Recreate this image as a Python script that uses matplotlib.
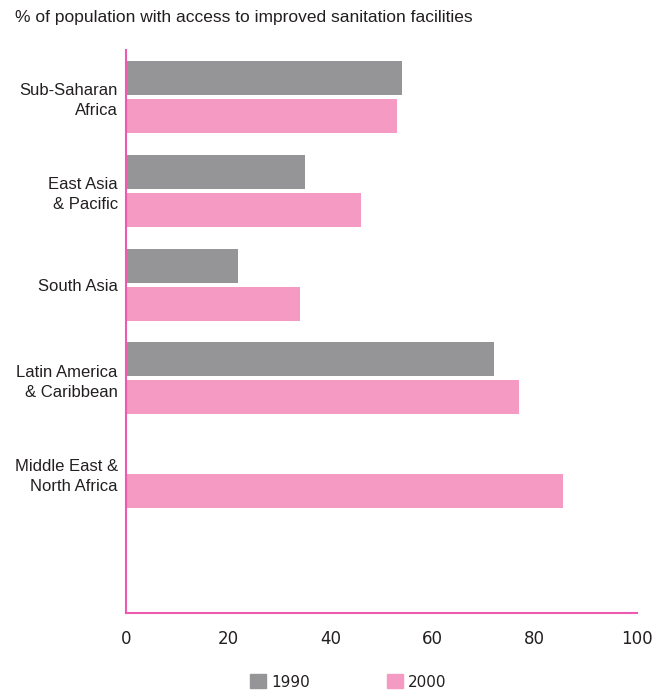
import numpy as np
import matplotlib
matplotlib.use("Agg")
from matplotlib import pyplot as plt
from matplotlib.patches import Patch

# data
regions = ["Sub-Saharan\nAfrica", "East Asia\n& Pacific", "South Asia",
           "Latin America\n& Caribbean", "Middle East &\nNorth Africa"]
v1990 = [54, 35, 22, 72, np.nan]
v2000 = [53, 46, 34, 77, 85.5]
xticks = [0, 20, 40, 60, 80, 100]

grey = "#959598"
pink = "#F49AC3"
axis_pink = "#EE5AB0"
txt = "#231F20"

plt.rcParams['font.family'] = ['Liberation Sans', 'DejaVu Sans']

fig = plt.figure(figsize=(6.62, 6.92), dpi=100)
ax = fig.add_axes([0.1903, 0.1142, 0.7719, 0.8135])

y = np.arange(len(regions))
h = 0.362
ax.barh(y - 0.202, v1990, height=h, color=grey, label="1990")
ax.barh(y + 0.202, v2000, height=h, color=pink, label="2000")

ax.set_ylim(5.5, -0.5)
ax.set_xlim(0, 100)
ax.set_yticks(y)
ax.set_yticklabels(regions, fontsize=12, color=txt, ha="right")
for t in ax.get_yticklabels():
    t.set_linespacing(1.4)
    t.set_multialignment("right")
ax.set_xticks(xticks)
ax.set_xticklabels([str(t) for t in xticks], fontsize=12, color=txt,
                   family="DejaVu Sans")
ax.tick_params(axis="x", length=0, pad=12)
ax.tick_params(axis="y", length=0, pad=6)

for s in ["top", "right"]:
    ax.spines[s].set_visible(False)
for s in ["left", "bottom"]:
    ax.spines[s].set_color(axis_pink)
    ax.spines[s].set_linewidth(1.5)

fig.text(0.023, 0.974, "% of population with access to improved sanitation facilities",
         fontsize=12.5, color=txt, va="center", ha="left")

handles = [Patch(color=grey, label="1990"), Patch(color=pink, label="2000")]
fig.legend(handles=handles, loc="center", bbox_to_anchor=(0.526, 0.0145), ncol=2,
           frameon=False, handlelength=1.05, handleheight=1.0, handletextpad=0.35,
           columnspacing=5.0, prop={"size": 11, "family": "DejaVu Sans"},
           labelcolor=txt, borderpad=0)

fig.savefig("out.png", dpi=100, facecolor="white")
